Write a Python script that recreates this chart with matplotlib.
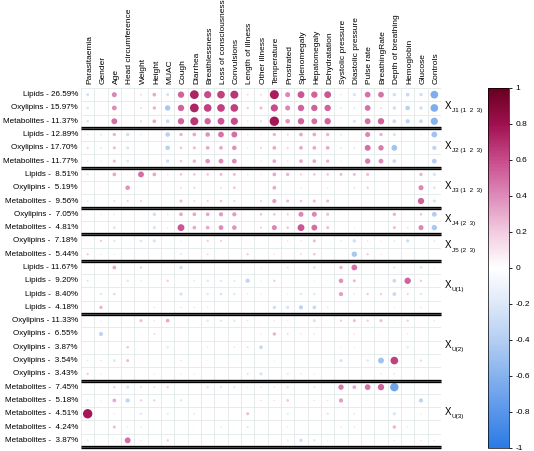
import numpy as np
import matplotlib
matplotlib.use("Agg")
import matplotlib.pyplot as plt
from matplotlib.patches import Circle
from matplotlib.colors import LinearSegmentedColormap, Normalize
import matplotlib.colorbar as mcolorbar

plt.rcParams['font.family'] = ['Liberation Sans', 'DejaVu Sans']

columns = ["Parasitaemia", "Gender", "Age", "Head circumference", "Weight", "Height",
           "MUAC", "Cough", "Diarrhea", "Breathlessness", "Loss of consciousness",
           "Convulsions", "Length of illness", "Other illness", "Temperature", "Prostrated",
           "Splenomegaly", "Hepatomegaly", "Dehydratation", "Systolic pressure",
           "Diastolic pressure", "Pulse rate", "BreathingRate", "Depth of breathing",
           "Hemoglobin", "Glucose", "Controls"]

row_omics = ["Lipids", "Oxylipins", "Metabolites",
             "Lipids", "Oxylipins", "Metabolites",
             "Lipids", "Oxylipins", "Metabolites",
             "Oxylipins", "Metabolites",
             "Oxylipins", "Metabolites",
             "Lipids", "Lipids", "Lipids", "Lipids",
             "Oxylipins", "Oxylipins", "Oxylipins", "Oxylipins", "Oxylipins",
             "Metabolites", "Metabolites", "Metabolites", "Metabolites", "Metabolites"]
row_pct = [26.59, 15.97, 11.37, 12.89, 17.70, 11.77, 8.51, 5.19, 9.56, 7.05, 4.81,
           7.18, 5.44, 11.67, 9.20, 8.40, 4.18, 11.33, 6.55, 3.87, 3.54, 3.43,
           7.45, 5.18, 4.51, 4.24, 3.87]

group_sizes = [3, 3, 3, 2, 2, 4, 5, 5]
group_main = ["J1", "J2", "J3", "J4", "J5", "U(1)", "U(2)", "U(3)"]
group_sub = [" (1  2  3)", " (1  2  3)", " (1  2  3)", " (2  3)", " (2  3)", "", "", ""]

values = [
    [-0.25, 0, 0.42, 0, 0.16, 0.31, -0.25, 0.53, 0.73, 0.60, 0.64, 0.67, 0.16, 0.16, 0.75, 0.42, 0.57, 0.53, 0.57, 0.13, -0.25, 0.48, 0.48, -0.28, -0.31, -0.28, -0.64],
    [-0.22, 0, 0.40, 0, 0.16, 0.28, -0.45, 0.53, 0.73, 0.64, 0.64, 0.64, 0.20, 0.25, 0.60, 0.42, 0.53, 0.53, 0.53, -0.18, -0.18, 0.48, 0.16, -0.28, -0.38, -0.28, -0.64],
    [-0.22, 0, 0.49, 0, 0.18, 0.31, -0.31, 0.53, 0.67, 0.53, 0.57, 0.60, 0.13, 0.18, 0.78, 0.38, 0.53, 0.49, 0.53, 0.09, -0.25, 0.49, 0.53, -0.31, -0.35, -0.31, -0.60],
    [0.13, -0.18, 0.28, -0.28, -0.16, 0, -0.38, 0.28, 0.31, 0.38, 0.48, 0.49, 0.13, 0.13, 0.28, 0.18, 0.31, 0.31, 0.28, -0.18, 0, 0.42, 0.28, -0.25, 0, -0.13, -0.48],
    [0.18, -0.18, 0.25, -0.25, 0, 0, -0.38, 0.22, 0.25, 0.31, 0.31, 0.38, 0.13, 0.18, 0.31, 0.18, 0.31, 0.31, 0.31, -0.18, -0.18, 0.49, 0.45, -0.48, 0, 0, -0.35],
    [0.13, -0.13, 0.25, -0.22, -0.13, 0, -0.28, 0.22, 0.28, 0.38, 0.40, 0.40, 0.09, 0.13, 0.31, 0.13, 0.31, 0.31, 0.28, -0.13, 0, 0.45, 0.40, -0.31, 0, -0.09, -0.40],
    [-0.18, 0, 0.31, 0.09, 0.49, 0.31, 0.13, 0.22, 0.22, 0.22, 0.25, 0.25, 0.13, 0.13, 0.31, 0.28, 0.18, 0.22, 0.22, 0.25, 0.25, 0.25, 0, 0, 0, 0.28, -0.25],
    [0, 0.09, 0, 0.38, 0, 0, 0.09, 0.16, 0.18, 0, 0.16, 0.22, 0, 0, 0.31, 0, 0.13, 0, 0.13, 0, 0.16, 0.20, 0, 0, 0, 0.42, -0.22],
    [-0.16, 0, 0.16, 0.18, 0.18, 0, 0, 0.25, 0.16, 0.18, 0.22, 0.18, 0, 0.18, 0.35, 0.25, 0.22, 0.25, 0.25, 0, 0.09, 0, 0, 0, 0, 0.53, -0.25],
    [0.09, -0.13, -0.16, 0, 0, -0.28, 0.13, 0.31, 0.31, 0.31, 0.35, 0.35, 0, 0.22, 0.22, 0.20, 0.42, 0.42, 0.25, 0.09, 0, 0, 0, 0.28, 0, 0.22, -0.40],
    [0.09, 0, -0.22, 0, 0, -0.25, 0.13, 0.57, 0.31, 0.31, 0.40, 0.38, 0, 0.18, 0.42, 0.22, 0.57, 0.49, 0.25, 0.09, -0.13, 0, 0, 0.25, -0.18, 0.42, -0.45],
    [0, 0.20, -0.20, 0, -0.22, -0.25, 0, -0.13, 0, 0.20, 0.18, 0.09, 0, 0, 0.09, 0.13, 0.13, 0.25, 0, -0.16, -0.28, 0.13, -0.13, -0.16, -0.28, 0, -0.16],
    [0.20, -0.13, -0.13, 0, 0, 0, 0, -0.18, 0, 0.16, 0, 0, 0.20, 0, 0.13, 0, 0.16, 0.22, 0, 0, -0.45, 0.20, 0.13, 0, 0, 0, 0],
    [0, 0.09, 0.31, 0, 0.20, 0, 0.09, -0.28, 0, 0, 0.09, 0, 0.09, -0.13, 0.09, -0.18, 0.09, -0.22, 0, 0.28, 0.48, 0, 0.09, -0.20, 0.09, -0.22, -0.13],
    [0.16, 0.09, 0, -0.20, 0.13, 0, 0.20, 0, -0.16, -0.20, -0.20, -0.18, -0.35, -0.13, 0.20, 0, 0, -0.13, 0.09, 0.38, 0.25, 0, 0.09, -0.31, 0.53, 0.20, 0.09],
    [0.09, -0.20, 0.20, 0, 0, 0, 0.09, -0.25, 0, -0.20, -0.22, -0.20, 0.13, -0.13, 0.09, -0.13, -0.20, -0.20, 0, 0.35, 0.13, 0.20, 0.20, -0.31, 0.18, -0.20, 0.09],
    [0, 0.28, 0.09, 0, 0, 0.13, -0.09, 0.13, 0.13, 0.13, 0, 0, 0, 0, -0.28, -0.25, -0.35, -0.31, -0.16, 0, 0, 0, 0, -0.13, 0, -0.16, 0],
    [0, -0.13, 0, 0, 0.25, 0.13, 0.31, 0, 0.09, -0.20, -0.20, -0.20, 0.13, 0.09, 0.13, -0.13, 0, -0.25, 0.09, 0.20, 0.25, 0.20, 0.25, -0.13, 0.20, 0, 0.13],
    [0, -0.35, 0.09, 0, 0.09, 0.16, 0.09, 0, 0, 0, 0, 0, 0, -0.13, 0.28, 0.16, 0.13, 0.13, 0, 0, 0.13, 0.09, 0.09, 0, 0.13, 0, 0],
    [0, 0.09, 0, 0.22, 0, 0.09, -0.20, 0, 0, 0.13, 0, 0.13, 0.16, -0.31, 0.09, 0, 0, 0, 0, -0.13, -0.13, 0, 0, 0, -0.20, 0, 0],
    [-0.16, 0.13, -0.22, 0.25, 0.09, 0, 0, 0.13, 0, 0.09, 0, 0.09, 0, 0, -0.13, 0, 0, 0, 0, -0.25, 0, -0.20, -0.49, 0.64, 0, 0.18, 0],
    [0.20, -0.13, 0, 0.09, 0, -0.13, 0.09, -0.13, -0.13, 0, 0, 0, 0.16, -0.25, 0, -0.18, 0.13, -0.13, 0.09, 0.09, 0.09, 0, 0.13, -0.16, 0, 0, 0],
    [0, -0.13, 0.20, -0.25, 0.16, 0.16, 0.20, 0, 0.09, -0.20, -0.20, -0.20, -0.13, 0.13, 0.13, -0.20, 0, -0.18, 0, 0.45, 0.31, 0.48, 0.53, -0.70, 0.09, 0.09, 0.09],
    [-0.16, -0.13, 0.31, -0.35, 0.20, 0.20, 0, -0.20, 0, 0, 0, 0, 0, 0.13, 0.13, 0.22, 0, 0.13, 0.13, 0.35, 0, 0.09, 0, 0.09, 0, -0.35, 0],
    [0.78, 0, -0.13, 0.09, -0.20, 0, -0.18, 0, -0.16, 0, 0, 0, 0.25, 0, 0, -0.18, 0, 0, -0.20, 0, -0.16, 0, 0, -0.25, 0, -0.13, 0],
    [0, -0.09, 0.25, 0.13, 0.13, 0.09, 0.09, 0, 0.09, 0, 0.13, 0.09, 0.16, 0, 0, 0.13, 0, 0, 0, 0.13, 0.13, 0, 0, 0.28, 0.13, 0.09, 0],
    [-0.16, 0, 0, 0.49, 0.13, 0.09, 0.20, 0, 0, 0, 0, 0, 0, 0, 0, -0.16, -0.28, -0.20, -0.13, 0, 0.09, 0, 0.09, 0.13, 0, 0.13, 0.13],
]

cbar_ticks = [1, 0.8, 0.6, 0.4, 0.2, 0, -0.2, -0.4, -0.6, -0.8, -1]

cmap = LinearSegmentedColormap.from_list("corr", [
    (0.0, "#2B7BE4"), (0.1, "#5996EA"), (0.2, "#86B2EE"), (0.3, "#B4CFF2"),
    (0.4, "#DDE8F8"), (0.5, "#FFFFFF"), (0.6, "#F2CCE0"), (0.7, "#DE8CBA"),
    (0.8, "#C84C8C"), (0.9, "#A0104F"), (1.0, "#67001F")])
norm = Normalize(-1, 1)

W, H = 534, 451
fig = plt.figure(figsize=(W / 100, H / 100), dpi=100)
ax = fig.add_axes([81 / W, (H - 447) / H, 360 / W, 359 / H])
nr, nc = len(values), len(columns)
ax.set_xlim(-0.5, nc - 0.5)
ax.set_ylim(nr - 0.5, -0.5)
ax.axis("off")

# grid
for x in np.arange(-0.5, nc, 1.0):
    ax.plot([x, x], [-0.5, nr - 0.5], color="#e2e9e9", lw=0.6, zorder=1)
for y in np.arange(-0.5, nr, 1.0):
    ax.plot([-0.5, nc - 0.5], [y, y], color="#e2e9e9", lw=0.6, zorder=1)

# circles (radius proportional to |r|)
for i, row in enumerate(values):
    for j, v in enumerate(row):
        if v == 0:
            continue
        r = 0.45 * abs(v)
        ax.add_patch(Circle((j, i), r, facecolor=cmap(norm(v)), edgecolor="none", zorder=3))

# row labels
for i, (om, p) in enumerate(zip(row_omics, row_pct)):
    pstr = f"{p:.2f}%"
    lab = f"{om} - {pstr}" if p >= 10 else f"{om} -  {pstr}"
    ax.annotate(lab, (-0.5, i), xytext=(-2.2, 0), textcoords="offset points",
                ha="right", va="center", fontsize=5.8, annotation_clip=False)

# column labels
for j, c in enumerate(columns):
    ax.annotate(c, (j, -0.5), xytext=(1.5, 3), textcoords="offset points",
                ha="center", va="bottom", rotation=90, fontsize=6, annotation_clip=False)

# group separators and labels
bounds = np.cumsum(group_sizes)
starts = bounds - np.array(group_sizes)
for b in bounds:
    ax.plot([-0.5, nc - 0.5], [b - 0.5, b - 0.5], color="black", lw=2.4,
            zorder=4, clip_on=False, solid_capstyle="butt")
    ax.plot([-0.5, nc - 0.5], [b - 0.5, b - 0.5], color="#777777", lw=0.4,
            zorder=5, clip_on=False, solid_capstyle="butt")
for s, b, m, sub in zip(starts, bounds, group_main, group_sub):
    yc = (s + b - 1) / 2.0
    ax.annotate("X", (nc - 0.5, yc), xytext=(2.6, 1.5), textcoords="offset points",
                ha="left", va="center", fontsize=7, annotation_clip=False)
    ax.annotate(m + sub, (nc - 0.5, yc), xytext=(7.6, -1.8), textcoords="offset points",
                ha="left", va="center", fontsize=4.6, annotation_clip=False)

# colorbar
cax = fig.add_axes([488 / W, (H - 448) / H, 21 / W, 360 / H])
cb = mcolorbar.ColorbarBase(cax, cmap=cmap, norm=norm, orientation="vertical")
cb.set_ticks(cbar_ticks)
cb.set_ticklabels([f"{t:g}" for t in cbar_ticks])
cax.tick_params(labelsize=6, length=2.5, width=0.6, pad=2)
cb.outline.set_linewidth(0.5)

fig.savefig("out.png", dpi=100, facecolor="white")
